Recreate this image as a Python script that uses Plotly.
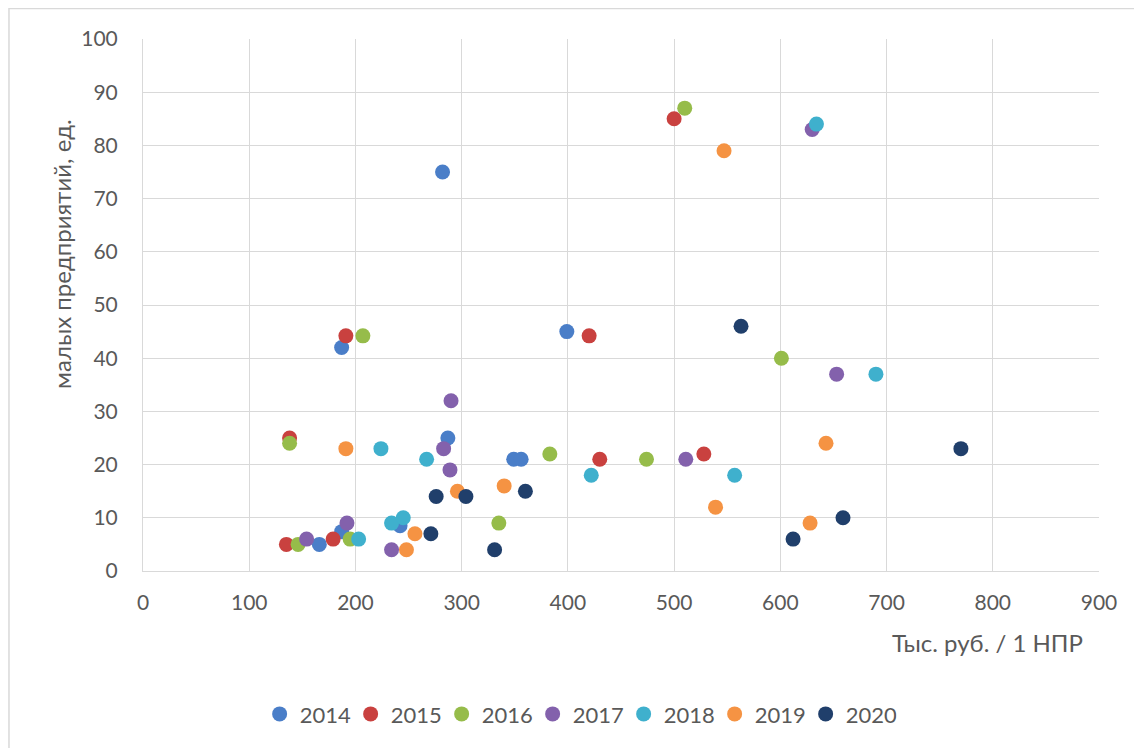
import plotly.graph_objects as go

years = ["2014", "2015", "2016", "2017", "2018", "2019", "2020"]
colors = ["#4A7EC8", "#C9413F", "#96BC4A", "#8361AC", "#3FB0CD", "#F59343", "#203F6B"]

x_2014 = [282, 399, 187, 287, 349, 356, 166, 187, 242]
y_2014 = [75, 45, 42, 25, 21, 21, 5, 7.4, 8.5]

x_2015 = [135, 179, 138, 191, 420, 500, 430, 528]
y_2015 = [5, 6, 25, 44.2, 44.2, 85, 21, 22]

x_2016 = [146, 195, 138, 207, 510, 601, 383, 474, 335]
y_2016 = [5, 6, 24, 44.2, 87, 40, 22, 21, 9]

x_2017 = [154, 192, 234, 283, 289, 290, 511, 653, 630]
y_2017 = [6, 9, 4, 23, 19, 32, 21, 37, 83]

x_2018 = [203, 234, 245, 224, 267, 422, 557, 690, 634]
y_2018 = [6, 9, 10, 23, 21, 18, 18, 37, 84]

x_2019 = [191, 256, 248, 296, 340, 547, 643, 539, 628]
y_2019 = [23, 7, 4, 15, 16, 79, 24, 12, 9]

x_2020 = [271, 276, 304, 360, 331, 563, 770, 659, 612]
y_2020 = [7, 14, 14, 15, 4, 46, 23, 10, 6]

xs = [x_2014, x_2015, x_2016, x_2017, x_2018, x_2019, x_2020]
ys = [y_2014, y_2015, y_2016, y_2017, y_2018, y_2019, y_2020]

x_title = "Тыс. руб. / 1 НПР"
y_title = "малых предприятий, ед."

FONT = "Lato"
GRAY = "#595959"

fig = go.Figure()
for name, c, xv, yv in zip(years, colors, xs, ys):
    fig.add_trace(go.Scatter(
        x=xv, y=yv, mode="markers", name=name,
        marker=dict(size=15, color=c, line=dict(width=0)),
    ))

fig.update_layout(
    width=1134, height=740,
    paper_bgcolor="white", plot_bgcolor="white",
    margin=dict(l=135, r=43, t=31, b=177),
    font=dict(family=FONT, color=GRAY, size=21),
    showlegend=True,
    legend=dict(
        orientation="h", x=0.122, xanchor="left", y=-0.269, yanchor="middle",
        font=dict(size=22, color=GRAY, family=FONT),
        entrywidth=46, entrywidthmode="pixels", itemsizing="trace",
        bgcolor="rgba(0,0,0,0)",
    ),
    xaxis=dict(
        range=[0, 900], dtick=100, tick0=0,
        showgrid=True, gridcolor="#D9D9D9", gridwidth=1,
        zeroline=False, showline=True, linecolor="#D9D9D9", linewidth=1,
        ticks="", tickfont=dict(size=21, color=GRAY, family=FONT),
        ticklabelstandoff=13,
    ),
    yaxis=dict(
        range=[0, 100], dtick=10, tick0=0,
        showgrid=True, gridcolor="#D9D9D9", gridwidth=1,
        zeroline=False, showline=True, linecolor="#D9D9D9", linewidth=1,
        ticks="", tickfont=dict(size=21, color=GRAY, family=FONT),
        ticklabelstandoff=20,
    ),
    annotations=[
        dict(text=x_title, xref="paper", yref="paper", x=0.883, y=-0.135,
             xanchor="center", yanchor="middle", showarrow=False,
             font=dict(size=24, color=GRAY, family=FONT)),
        dict(text=y_title, xref="paper", yref="paper", x=-0.0847, y=0.596,
             xanchor="center", yanchor="middle", showarrow=False, textangle=-90,
             font=dict(size=24, color=GRAY, family=FONT)),
    ],
    shapes=[
        dict(type="rect", xref="paper", yref="paper",
             x0=-0.1402, x1=1.05, y0=-0.35, y1=1.0573,
             line=dict(color="#D9D9D9", width=1.5), fillcolor="rgba(0,0,0,0)",
             layer="below"),
    ],
)

fig.write_html("out.html")
